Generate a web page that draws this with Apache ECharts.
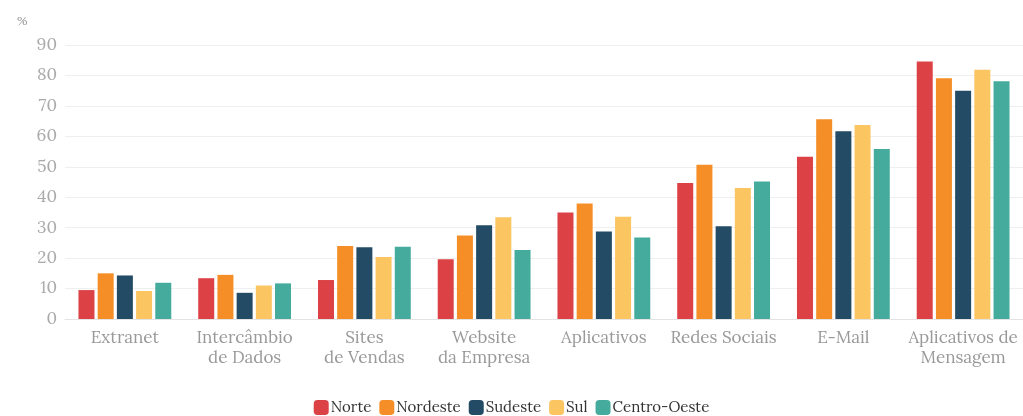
<!DOCTYPE html>
<html><head><meta charset="utf-8">
<script src="https://cdn.jsdelivr.net/npm/echarts@6/dist/echarts.min.js"></script>
<style>html,body{margin:0;padding:0;background:#fff}#c{width:1023px;height:416px}</style>
</head><body><div id="c"></div>
<script>
const categories = ['Extranet','Intercâmbio\nde Dados','Sites\nde Vendas','Website\nda Empresa','Aplicativos','Redes Sociais','E-Mail','Aplicativos de\nMensagem'];
const norte    = [9.5, 13.4, 12.8, 19.6, 35.0, 44.7, 53.3, 84.6];
const nordeste = [15.0, 14.5, 24.0, 27.4, 37.9, 50.7, 65.6, 79.1];
const sudeste  = [14.3, 8.6, 23.6, 30.8, 28.7, 30.5, 61.7, 75.0];
const sul      = [9.2, 11.0, 20.4, 33.4, 33.6, 43.0, 63.7, 81.9];
const centroOeste = [11.9, 11.7, 23.7, 22.7, 26.8, 45.2, 55.8, 78.1];
const seriesNames = ['Norte','Nordeste','Sudeste','Sul','Centro-Oeste'];
const colors = ['#da3b3f','#f58a1f','#1c4560','#fbc35c','#3fa89a'];
const yTicks = [0,10,20,30,40,50,60,70,80,90];

const font = 'Lora, "DejaVu Serif", serif';
const chart = echarts.init(document.getElementById('c'));
const data = [norte, nordeste, sudeste, sul, centroOeste];
chart.setOption({
  animation: false,
  color: colors,
  title: {text: '%', left: 12, top: 11, textStyle: {fontSize: 12, fontWeight: 'normal', color: '#999', fontFamily: font}},
  grid: {left: 65, right: 0, top: 45, bottom: 97},
  legend: {
    bottom: -4, left: 'center', itemWidth: 15, itemHeight: 15, itemGap: 8,
    icon: 'roundRect',
    textStyle: {fontSize: 15, color: '#333', fontFamily: font, padding: [0,0,0,-3]},
    data: seriesNames
  },
  xAxis: {
    type: 'category', data: categories,
    axisLine: {lineStyle: {color: '#e3e3e3'}},
    axisTick: {alignWithLabel: true, length: 5, lineStyle: {color: '#e3e3e3'}},
    axisLabel: {fontSize: 17, color: '#999', fontFamily: font, lineHeight: 20, margin: 9, interval: 0}
  },
  yAxis: {
    type: 'value', min: 0, max: 90, interval: 10,
    axisLine: {show: false}, axisTick: {show: false},
    axisLabel: {fontSize: 17, color: '#aaa', fontFamily: font, margin: 8,
      formatter: v => yTicks.includes(v) ? String(v) : ''},
    splitLine: {lineStyle: {color: '#efefef'}}
  },
  series: seriesNames.map((n, i) => ({
    name: n, type: 'bar', data: data[i], barWidth: 16, barGap: '20%',
    itemStyle: {color: colors[i], opacity: 0.97}
  }))
});
</script></body></html>
